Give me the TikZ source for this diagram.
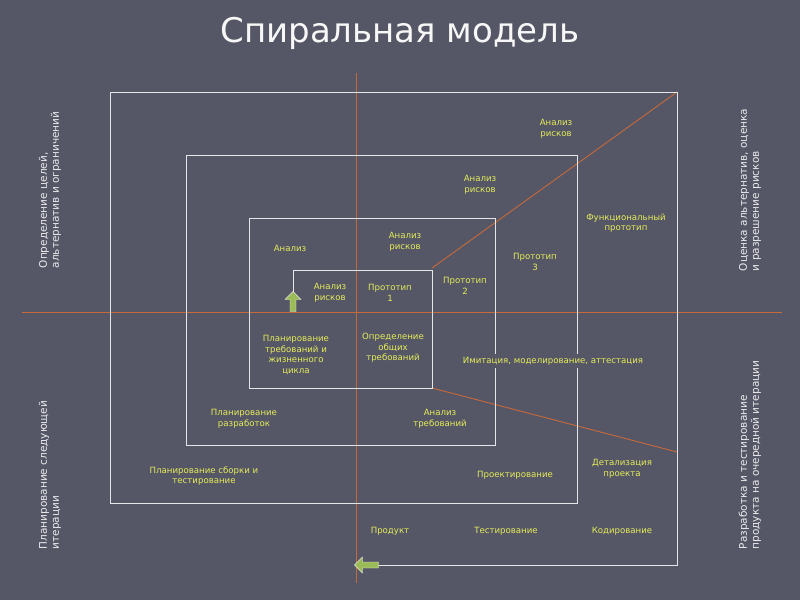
\documentclass[tikz,border=0pt]{standalone}
\usepackage{fontspec}
\setmainfont{DejaVu Sans}
\usetikzlibrary{shapes.arrows}
\definecolor{bg}{HTML}{555766}
\definecolor{yl}{HTML}{E6EC5A}
\definecolor{org}{HTML}{C8693A}
\definecolor{gr}{HTML}{9BBB59}
\begin{document}
\begin{tikzpicture}[x=1pt,y=-1pt,
  lbl/.style={text=yl,font=\fontsize{8.6}{10.5}\selectfont,align=center,inner sep=1pt},
  side/.style={text=white!88!bg,font=\fontsize{10.5}{12}\selectfont,align=left,rotate=90},
  spiral/.style={draw=white!85!bg,line width=0.9pt},
  axis/.style={draw=org,line width=0.9pt},
  garrow/.style={single arrow,fill=gr,draw=white!80!gr,line width=0.4pt,minimum height=20pt,minimum width=16pt,single arrow head extend=2pt,inner sep=1pt}]
\fill[bg] (0,0) rectangle (800,600);
\node[text=white!95!bg,font=\fontsize{34}{38}\selectfont] (title) at (400,33) {Спиральная модель};
\coordinate (hl) at (22,312); \coordinate (hr) at (782,312);
\coordinate (vt) at (356,73); \coordinate (vb) at (356,583);
\draw[axis] (hl) -- (hr);
\draw[axis] (vt) -- (vb);
\coordinate (c1) at (432,268); \coordinate (c2) at (677,92);
\coordinate (c3) at (432,388); \coordinate (c4) at (677,452);
\draw[axis] (c1) -- (c2);
\draw[axis] (c3) -- (c4);
\draw[spiral] (293,300) -- (293,270) -- (432,270) -- (432,388) -- (249,388) -- (249,218) -- (495,218) -- (495,445) -- (186,445) -- (186,155) -- (577,155) -- (577,503) -- (110,503) -- (110,92) -- (677,92) -- (677,565) -- (375,565);
\node[garrow,shape border rotate=90] (up) at (293,303) {};
\node[garrow,shape border rotate=180,minimum height=24pt] (lf) at (368,565) {};
\node[lbl] (a1) at (556,129) {Анализ\\рисков};
\node[lbl] (a2) at (480,185) {Анализ\\рисков};
\node[lbl] (a3) at (405,242) {Анализ\\рисков};
\node[lbl] (a4) at (330,293) {Анализ\\рисков};
\node[lbl] (an) at (290,248) {Анализ};
\node[lbl] (p1) at (390,293) {Прототип\\1};
\node[lbl] (p2) at (465,286) {Прототип\\2};
\node[lbl] (p3) at (535,262) {Прототип\\3};
\node[lbl] (fp) at (626,223) {Функциональный\\прототип};
\node[lbl] (pt) at (296,355) {Планирование\\требований и\\жизненного\\цикла};
\node[lbl] (og) at (393,348) {Определение\\общих\\требований};
\node[lbl,fill=bg,inner sep=3pt] (im) at (553,361) {Имитация,  моделирование,  аттестация};
\node[lbl] (pr) at (244,419) {Планирование\\разработок};
\node[lbl] (at) at (440,419) {Анализ\\требований};
\node[lbl] (ps) at (204,476) {Планирование сборки и\\тестирование};
\node[lbl] (pj) at (515,475) {Проектирование};
\node[lbl] (dp) at (622,469) {Детализация\\проекта};
\node[lbl] (pd) at (390,531) {Продукт};
\node[lbl] (ts) at (506,531) {Тестирование};
\node[lbl] (kd) at (622,531) {Кодирование};
\node[side] (s1) at (50,190) {Определение целей,\\альтернатив и ограничений};
\node[side] (s2) at (750,190) {Оценка альтернатив, оценка\\и разрешение рисков};
\node[side] (s3) at (50,475) {Планирование следующей\\итерации};
\node[side] (s4) at (750,455) {Разработка и тестирование\\продукта на очередной итерации};
\end{tikzpicture}
\end{document}
